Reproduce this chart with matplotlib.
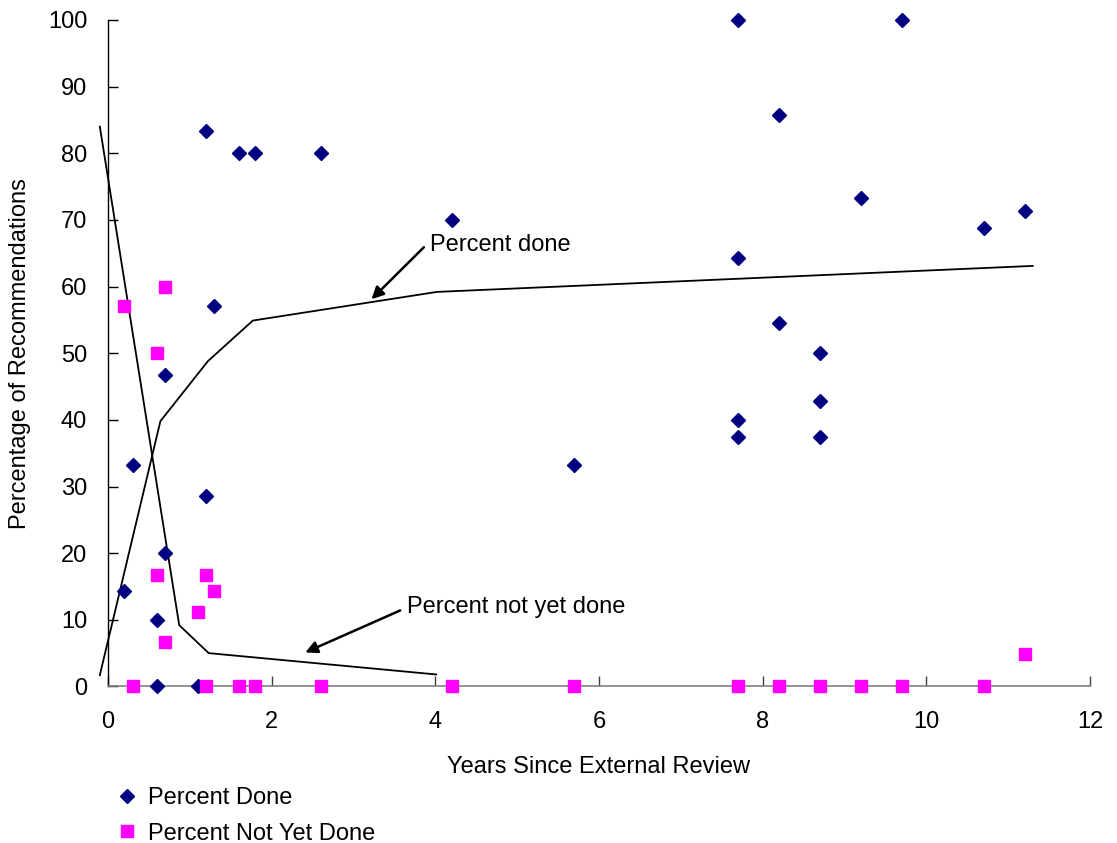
import matplotlib
matplotlib.use("Agg")
import matplotlib.pyplot as plt
from matplotlib.lines import Line2D

plt.rcParams['font.family'] = ['Liberation Sans', 'DejaVu Sans']

# Percent Done (navy diamonds)
done_x = [0.2, 0.3, 0.6, 0.6, 0.7, 0.7, 1.1, 1.2, 1.2, 1.3, 1.6, 1.8, 2.6, 4.2, 5.7,
          7.7, 7.7, 7.7, 7.7, 8.2, 8.2, 8.7, 8.7, 8.7, 9.2, 9.7, 10.7, 11.2]
done_y = [14.3, 33.3, 10.0, 0.0, 46.7, 20.0, 0.0, 83.3, 28.6, 57.1, 80.0, 80.0, 80.0, 70.0, 33.3,
          100.0, 64.3, 40.0, 37.5, 85.7, 54.5, 50.0, 42.9, 37.5, 73.3, 100.0, 68.75, 71.4]

# Percent Not Yet Done (magenta squares)
notdone_x = [0.2, 0.3, 0.6, 0.6, 0.7, 0.7, 1.1, 1.2, 1.2, 1.3, 1.6, 1.8, 2.6, 4.2, 5.7,
             7.7, 8.2, 8.7, 9.2, 9.7, 10.7, 11.2]
notdone_y = [57.1, 0.0, 50.0, 16.7, 60.0, 6.7, 11.1, 16.7, 0.0, 14.3, 0.0, 0.0, 0.0, 0.0, 0.0,
             0.0, 0.0, 0.0, 0.0, 0.0, 0.0, 4.8]

# Trend lines (hand drawn)
trend_done_x = [-0.1, 0.64, 1.22, 1.77, 4.02, 11.3]
trend_done_y = [1.7, 39.8, 48.8, 54.9, 59.2, 63.1]
trend_notdone_x = [-0.1, 0.87, 1.23, 4.01]
trend_notdone_y = [84.0, 9.2, 5.0, 1.8]

x_ticks = [0, 2, 4, 6, 8, 10, 12]
y_ticks = [0, 10, 20, 30, 40, 50, 60, 70, 80, 90, 100]

FS = 17
MS_D = 7.4
MS_S = 8.6

fig = plt.figure(figsize=(11.17, 8.43), dpi=100)
ax = fig.add_axes([0.0967, 0.1857, 0.8791, 0.7906])

ax.plot(trend_done_x, trend_done_y, color='black', lw=1.3, clip_on=False, zorder=2)
ax.plot(trend_notdone_x, trend_notdone_y, color='black', lw=1.3, clip_on=False, zorder=2)

ax.plot(done_x, done_y, linestyle='none', marker='D', ms=MS_D, color='#000080',
        mec='#000080', clip_on=False, zorder=3, label='Percent Done')
ax.plot(notdone_x, notdone_y, linestyle='none', marker='s', ms=MS_S, color='#FF00FF',
        mec='#FF00FF', clip_on=False, zorder=3, label='Percent Not Yet Done')

ax.set_xlim(0, 12)
ax.set_ylim(0, 100)
ax.set_xticks(x_ticks)
ax.set_yticks(y_ticks)
ax.set_xticklabels([str(t) for t in x_ticks], fontsize=FS)
ax.set_yticklabels([str(t) for t in y_ticks], fontsize=FS)
ax.tick_params(axis='both', direction='in', length=7, width=1, colors='black')
ax.tick_params(axis='x', pad=18, color='#404040')
ax.tick_params(axis='y', pad=15)

for s in ['top', 'right']:
    ax.spines[s].set_visible(False)
ax.spines['left'].set_color('black')
ax.spines['bottom'].set_color('#808080')
ax.spines['left'].set_linewidth(1)
ax.spines['bottom'].set_linewidth(1.2)

ax.set_xlabel('Years Since External Review', fontsize=FS, labelpad=16)
ax.set_ylabel('Percentage of Recommendations', fontsize=FS, labelpad=12)

arrowprops = dict(arrowstyle='-|>', color='black', lw=1.8, mutation_scale=18,
                  shrinkA=0, shrinkB=0)
ax.annotate('', xy=(3.22, 58.1), xytext=(3.86, 65.9), arrowprops=arrowprops)
ax.text(3.93, 66.3, 'Percent done', fontsize=FS, ha='left', va='center')
ax.annotate('', xy=(2.41, 5.1), xytext=(3.57, 11.4), arrowprops=arrowprops)
ax.text(3.65, 11.9, 'Percent not yet done', fontsize=FS, ha='left', va='center')

handles = [Line2D([], [], linestyle='none', marker='D', ms=MS_D, color='#000080'),
           Line2D([], [], linestyle='none', marker='s', ms=MS_S, color='#FF00FF')]
fig.legend(handles, ['Percent Done', 'Percent Not Yet Done'], loc='upper left',
           bbox_to_anchor=(0.1053, 0.0665), bbox_transform=fig.transFigure,
           frameon=False, fontsize=FS, handlelength=0.8, handletextpad=0.49,
           labelspacing=0.58, borderpad=0, borderaxespad=0)

fig.savefig('out.png', dpi=100)
